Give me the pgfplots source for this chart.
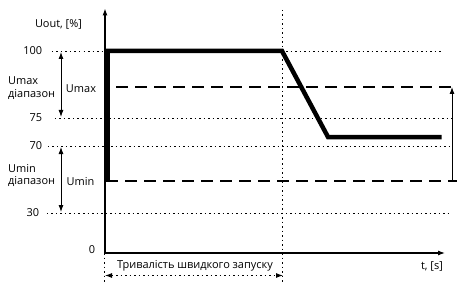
\documentclass[border=0pt]{standalone}
\usepackage{pgfplots}
\pgfplotsset{compat=1.18}
\usepackage{fontspec}
\setmainfont{Open Sans}
\usetikzlibrary{arrows.meta}
\begin{document}
\fontsize{11}{13}\selectfont
\begin{tikzpicture}[
  dotl/.style={black, line width=0.9bp, dash pattern=on 1.5bp off 3bp},
  dashl/.style={black, line width=2bp, dash pattern=on 12bp off 7bp},
  tip/.style={-{Latex[length=7bp,width=5bp]}},
  dtip/.style={{Latex[length=7bp,width=5bp]}-{Latex[length=7bp,width=5bp]}},
]
\begin{axis}[
  scale only axis, width=340bp, height=244.5bp,
  xmin=0, xmax=340, ymin=0, ymax=244.5,
  axis lines=left,
  axis line style={line width=1.1bp, -{Latex[length=7bp,width=5bp]}},
  xtick=\empty, ytick=\empty,
  clip=false,
]
% dotted reference lines
\addplot[dotl] coordinates {(-53,202) (338,202)};
\addplot[dotl] coordinates {(-50,135) (347,135)};
\addplot[dotl] coordinates {(-57,107) (347,107)};
\addplot[dotl] coordinates {(-58,40) (343,40)};
\addplot[dotl] coordinates {(177.5,243) (177.5,-30)};
\addplot[dotl] coordinates {(-1,0) (-1,-30)};
% dashed limits
\addplot[dashl] coordinates {(11,166) (347,166)};
\addplot[dashl] coordinates {(1,72.5) (352,72.5)};
% output curve
\addplot[black, line width=4.5bp, line join=miter] coordinates {(2.5,72.5) (2.5,202) (177,202) (223,116) (336.5,116)};
% arrows
\draw[dtip, line width=0.9bp] (axis cs:-44,201) -- (axis cs:-44,136);
\draw[dtip, line width=0.9bp] (axis cs:-44,106) -- (axis cs:-44,41);
\draw[tip, line width=0.9bp] (axis cs:347,72.5) -- (axis cs:347,166);
\draw[dtip, dotl] (axis cs:0,-22.5) -- (axis cs:178,-22.5);
% labels
\node[anchor=east] at (axis cs:-59,202) {100};
\node[anchor=east] at (axis cs:-59,135) {75};
\node[anchor=east] at (axis cs:-59,107) {70};
\node[anchor=east] at (axis cs:-62,40) {30};
\node[anchor=east] at (axis cs:-6,3) {0};
\node at (axis cs:-46.5,229) {Uout, [\%]};
\node[anchor=west, align=left, inner sep=0pt] at (axis cs:-97,165) {Umax\\діапазон};
\node[anchor=west, align=left, inner sep=0pt] at (axis cs:-97,77.5) {Umin\\діапазон};
\node at (axis cs:-24,164) {Umax};
\node at (axis cs:-24.5,71) {Umin};
\node at (axis cs:90,-13) {Тривалість швидкого запуску};
\node at (axis cs:327,-13) {t, [s]};
\coordinate (bl) at (axis cs:-105,-30);
\coordinate (tr) at (axis cs:352,253);
\end{axis}
\pgfresetboundingbox
\useasboundingbox (bl) rectangle (tr);
\end{tikzpicture}
\end{document}
